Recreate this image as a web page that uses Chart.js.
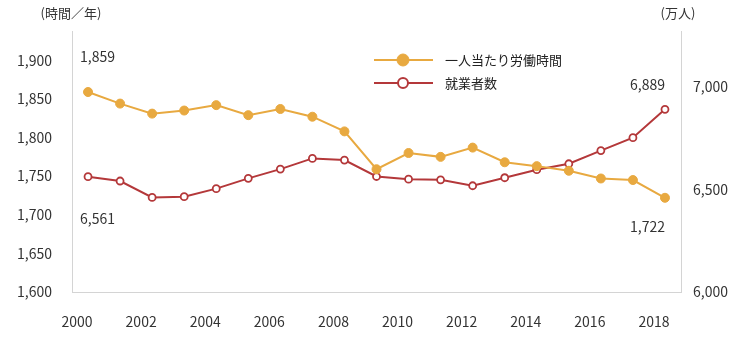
<!DOCTYPE html>
<html lang="ja">
<head>
<meta charset="utf-8">
<script src="https://cdn.jsdelivr.net/npm/chart.js@4.4.1/dist/chart.umd.min.js"></script>
<style>
  html, body { margin: 0; padding: 0; background: #fff; }
</style>
</head>
<body>
<canvas id="laborChart" width="750" height="339"></canvas>
<script>
const years = ['2000', '2001', '2002', '2003', '2004', '2005', '2006', '2007', '2008', '2009',
               '2010', '2011', '2012', '2013', '2014', '2015', '2016', '2017', '2018'];
const hoursPerWorker = [1859, 1844, 1831, 1835, 1842, 1829, 1837, 1827, 1808, 1759,
                        1780, 1775, 1787, 1768, 1763, 1757, 1747, 1745, 1722];
const employedPersons = [6561, 6540, 6460, 6464, 6503, 6553, 6598, 6650, 6642, 6562,
                         6549, 6546, 6517, 6556, 6595, 6624, 6688, 6751, 6889];
const hoursTicks = [1600, 1650, 1700, 1750, 1800, 1850, 1900];
const personsTicks = [6000, 6500, 7000];

const ORANGE = '#e8a940';
const RED = '#b4383a';
const AXIS = '#d4d4d4';
const TEXT = '#333333';
const FONT = '"Noto Sans CJK JP", "Noto Sans", sans-serif';

Chart.defaults.font.family = FONT;
Chart.defaults.color = TEXT;

const fmt = v => v.toLocaleString('en-US');

// axis units, legend box and end-point value labels
const extras = {
  id: 'extras',
  afterDatasetsDraw(chart) {
    const ctx = chart.ctx;
    ctx.save();

    ctx.font = '13px ' + FONT;
    ctx.fillStyle = TEXT;
    ctx.textBaseline = 'middle';
    ctx.textAlign = 'center';
    ctx.fillText('(時間／年)', 71, 13);
    ctx.fillText('(万人)', 678, 13);

    // legend
    chart.data.datasets.forEach((ds, i) => {
      const y = 60 + i * 23;
      ctx.strokeStyle = ds.borderColor;
      ctx.lineWidth = 2;
      ctx.beginPath();
      ctx.moveTo(374, y);
      ctx.lineTo(433, y);
      ctx.stroke();
      ctx.beginPath();
      ctx.arc(403, y, i === 0 ? 6 : 5, 0, Math.PI * 2);
      ctx.fillStyle = ds.pointBackgroundColor;
      ctx.fill();
      ctx.strokeStyle = ds.pointBorderColor;
      ctx.lineWidth = i === 0 ? 1 : 2;
      ctx.stroke();
      ctx.fillStyle = '#222';
      ctx.font = '13px ' + FONT;
      ctx.textAlign = 'left';
      ctx.fillText(ds.label, 445, y);
    });

    // first and last values
    ctx.font = '14px ' + FONT;
    ctx.fillStyle = TEXT;
    const last = years.length - 1;
    const marks = [
      [0, 0, -8, -35, 'left'],
      [1, 0, -8, 42, 'left'],
      [1, last, 0, -25, 'right'],
      [0, last, 0, 29, 'right']
    ];
    marks.forEach(([d, idx, dx, dy, align]) => {
      const pt = chart.getDatasetMeta(d).data[idx];
      const v = chart.data.datasets[d].data[idx];
      ctx.textAlign = align;
      ctx.fillText(fmt(v), pt.x + dx, pt.y + dy);
    });
    ctx.restore();
  }
};

new Chart(document.getElementById('laborChart'), {
  type: 'line',
  data: {
    labels: years,
    datasets: [{
      label: '一人当たり労働時間',
      data: hoursPerWorker,
      yAxisID: 'yHours',
      borderColor: ORANGE,
      borderWidth: 2,
      pointRadius: 4.5,
      pointBackgroundColor: ORANGE,
      pointBorderColor: ORANGE,
      pointBorderWidth: 1,
      tension: 0
    }, {
      label: '就業者数',
      data: employedPersons,
      yAxisID: 'yPersons',
      borderColor: RED,
      borderWidth: 2,
      pointRadius: 3.5,
      pointBackgroundColor: '#ffffff',
      pointBorderColor: RED,
      pointBorderWidth: 1.8,
      tension: 0
    }]
  },
  options: {
    responsive: false,
    animation: false,
    devicePixelRatio: 1,
    layout: { padding: { top: 31, left: 0, right: 0, bottom: 0 } },
    plugins: {
      legend: { display: false },
      tooltip: { enabled: false }
    },
    scales: {
      x: {
        type: 'category',
        offset: true,
        grid: { display: false, drawTicks: false },
        border: { display: true, color: AXIS, width: 1 },
        afterFit: axis => { axis.height = 47; },
        ticks: {
          autoSkip: false,
          maxRotation: 0,
          padding: 21,
          labelOffset: -11,
          font: { size: 14 },
          color: TEXT,
          callback: function (val, i) {
            const y = years[i];
            return Number(y) % 2 === 0 ? y : '';
          }
        }
      },
      yHours: {
        position: 'left',
        min: 1600,
        max: 1938,
        grid: { display: false, drawTicks: false },
        border: { display: true, color: AXIS, width: 1 },
        afterBuildTicks: axis => { axis.ticks = hoursTicks.map(v => ({ value: v })); },
        afterFit: axis => { axis.width = 72; },
        ticks: {
          padding: 20,
          font: { size: 14 },
          color: TEXT,
          callback: v => fmt(v)
        }
      },
      yPersons: {
        position: 'right',
        min: 6000,
        max: 7270,
        grid: { display: false, drawTicks: false },
        border: { display: true, color: AXIS, width: 1 },
        afterBuildTicks: axis => { axis.ticks = personsTicks.map(v => ({ value: v })); },
        afterFit: axis => { axis.width = 69; },
        ticks: {
          padding: 12,
          font: { size: 14 },
          color: TEXT,
          callback: v => fmt(v)
        }
      }
    }
  },
  plugins: [extras]
});
</script>
</body>
</html>
